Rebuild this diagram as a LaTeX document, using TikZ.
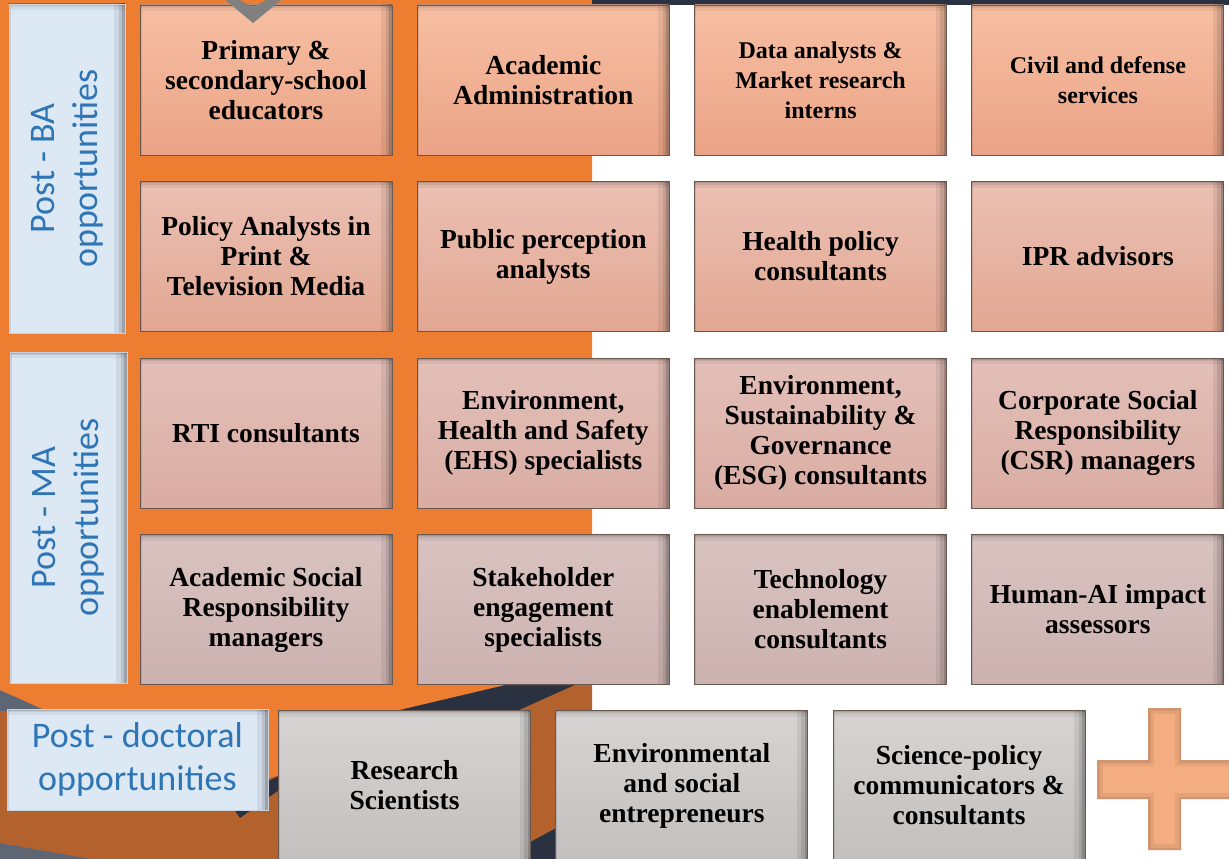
\documentclass[tikz,border=0pt]{standalone}
\usepackage{fontspec}
\newfontfamily\labelfont{Carlito}
\newfontfamily\rolefamily{Liberation Serif}
\newcommand{\rolefont}{\rolefamily\bfseries\fontsize{27.5}{30}\selectfont}
\newcommand{\rolefontlight}{\rolefamily\bfseries\fontsize{24}{30}\selectfont}
\definecolor{deckorange}{RGB}{237,125,49}
\definecolor{deckbrown}{RGB}{180,98,45}
\definecolor{decknavy}{RGB}{42,50,65}
\definecolor{deckslate}{RGB}{94,102,115}
\definecolor{boxedge}{RGB}{105,88,80}
\definecolor{labelblue}{RGB}{221,232,245}
\definecolor{labeltext}{RGB}{46,117,182}
\definecolor{plusorange}{RGB}{243,173,128}
\definecolor{chevgray}{RGB}{128,128,128}
\tikzset{
  inset/.style={
    path picture={
      % soft shade along the top
      \foreach \w/\o in {12/0.05, 6/0.08, 3/0.12}
        \draw[black, opacity=\o, line width=\w pt]
          ([xshift=-30pt]path picture bounding box.north west)
          -- ([xshift=30pt]path picture bounding box.north east);
      % deeper shade along the right side
      \foreach \w/\o in {22/0.07, 13/0.10, 6/0.16}
        \draw[black, opacity=\o, line width=\w pt]
          ([yshift=30pt]path picture bounding box.north east)
          -- ([yshift=-30pt]path picture bounding box.south east);
      % thin line on the left
      \draw[black, opacity=0.10, line width=3pt]
        ([yshift=30pt]path picture bounding box.north west)
        -- ([yshift=-30pt]path picture bounding box.south west);
    }
  },
  role-box/.style={
    draw=boxedge,
    line width=0.9pt,
    minimum width=252pt,
    minimum height=150pt,
    inner sep=0pt,
    align=center,
    inset
  },
  role-bold/.style={font=\rolefont},
  role-light/.style={font=\rolefontlight},
  tier-1/.style={top color={rgb,255:red,247;green,191;blue,163}, bottom color={rgb,255:red,235;green,163;blue,134}},
  tier-2/.style={top color={rgb,255:red,235;green,192;blue,179}, bottom color={rgb,255:red,226;green,167;blue,146}},
  tier-3/.style={top color={rgb,255:red,227;green,192;blue,185}, bottom color={rgb,255:red,217;green,172;blue,162}},
  tier-4/.style={top color={rgb,255:red,217;green,195;blue,193}, bottom color={rgb,255:red,203;green,178;blue,176}},
  tier-5/.style={top color={rgb,255:red,215;green,212;blue,211}, bottom color={rgb,255:red,195;green,191;blue,190}},
  side-label/.style={
    fill=labelblue,
    draw=labelblue!80!gray,
    line width=0.6pt,
    inner sep=0pt,
    inset
  },
  side-text/.style={
    text=labeltext,
    align=center,
    font=\labelfont\fontsize{36}{43}\selectfont
  }
}
\newcommand{\plusshape}{(1148,708) -- (1181,708) -- (1181,760) -- (1240,760) -- (1240,799) -- (1181,799)
  -- (1181,850) -- (1148,850) -- (1148,799) -- (1097,799) -- (1097,760) -- (1148,760) -- cycle}

\begin{document}
\begin{tikzpicture}[x=1pt, y=-1pt]
  \useasboundingbox (0,0) rectangle (1229,859);
  \fill[white] (0,0) rectangle (1229,859);

  % backdrop
  \fill[decknavy] (0,685) rectangle (592,859);
  \fill[deckslate] (0,686) -- (52,711) -- (0,711) -- cycle;
  \fill[deckbrown] (0,711) rectangle (279,859);
  \fill[deckslate] (0,843) -- (90,859) -- (0,859) -- cycle;
  \fill[deckorange] (243,711) -- (279,711) -- (279,775) -- (243,786) -- cycle;
  \fill[decknavy] (228,800) -- (279,776) -- (279,790) -- (240,818) -- cycle;
  \fill[deckbrown] (517,711) -- (575,685) -- (592,685) -- (592,711) -- (556,711)
    -- (556,828) -- (530,842) -- (530,711) -- cycle;
  \fill[deckorange] (0,0) -- (592,0) -- (592,685) -- (505,685) -- (395,711)
    -- (47,711) -- (0,690) -- cycle;
  \fill[decknavy] (592,0) rectangle (1229,5);

  % side labels
  \node[side-label, minimum width=116pt, minimum height=329pt] (ba) at (67,168.5) {};
  \node[side-text, rotate=90] (ba-text) at (ba.center) {Post - BA\\opportunities};
  \node[side-label, minimum width=117pt, minimum height=331pt] (ma) at (68.5,517.5) {};
  \node[side-text, rotate=90] (ma-text) at (ma.center) {Post - MA\\opportunities};

  % grid of roles
  \foreach \c/\r/\look/\txt in {
    1/1/role-bold/{Primary \&\\secondary-school\\educators},
    2/1/role-bold/{Academic\\Administration},
    3/1/role-light/{Data analysts \&\\Market research\\interns},
    4/1/role-light/{Civil and defense\\services},
    1/2/role-bold/{Policy Analysts in\\Print \&\\Television Media},
    2/2/role-bold/{Public perception\\analysts},
    3/2/role-bold/{Health policy\\consultants},
    4/2/role-bold/{IPR advisors},
    1/3/role-bold/{RTI consultants},
    2/3/role-bold/{Environment,\\Health and Safety\\(EHS) specialists},
    3/3/role-bold/{Environment,\\Sustainability \&\\Governance\\(ESG) consultants},
    4/3/role-bold/{Corporate Social\\Responsibility\\(CSR) managers},
    1/4/role-bold/{Academic Social\\Responsibility\\managers},
    2/4/role-bold/{Stakeholder\\engagement\\specialists},
    3/4/role-bold/{Technology\\enablement\\consultants},
    4/4/role-bold/{Human-AI impact\\assessors}}
    \node[role-box, tier-\r, \look] (r\r c\c) at ({266+277.3*(\c-1)}, {80+176.5*(\r-1)}) {\txt};

  % post-doctoral row
  \node[side-label, minimum width=261pt, minimum height=101pt, side-text] (phd) at (137.5,759.5)
    {Post - doctoral\\opportunities};
  \foreach \c/\txt in {
    1/{Research\\Scientists},
    2/{Environmental\\and social\\entrepreneurs},
    3/{Science-policy\\communicators \&\\consultants}}
    \node[role-box, tier-5, role-bold] (phd\c) at ({404.5+277.3*(\c-1)}, 785.5) {\txt};

  % plus sign
  \fill[plusorange] \plusshape;
  \begin{scope}
    \clip \plusshape;
    \draw[black, opacity=0.06, line width=12pt] \plusshape;
    \draw[black, opacity=0.08, line width=5pt] \plusshape;
  \end{scope}

  % chevron at the top
  \fill[chevgray] (222,-3) -- (253,23) -- (285,-3) -- (272,-3) -- (253,7) -- (234,-3) -- cycle;
\end{tikzpicture}
\end{document}
